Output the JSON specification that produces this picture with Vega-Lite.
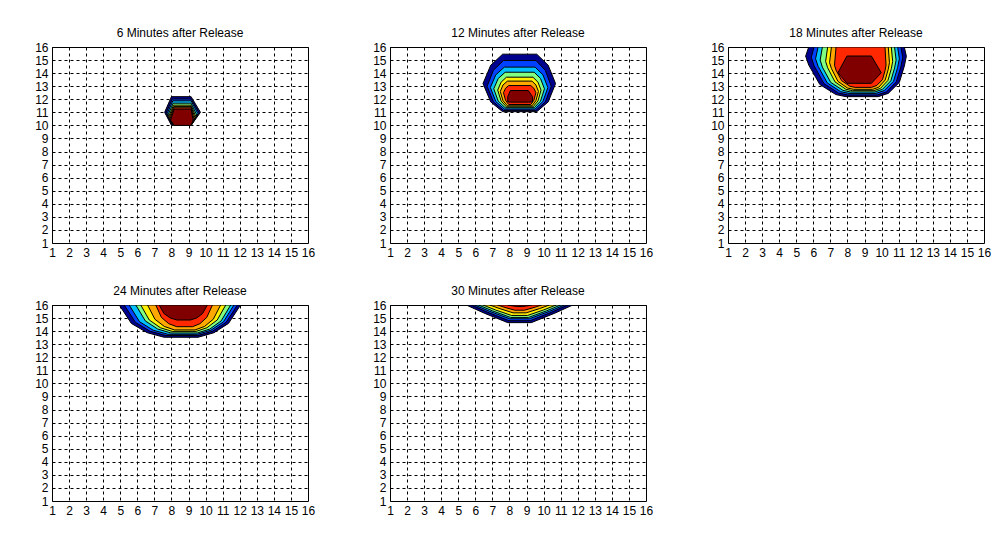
{
"$schema": "https://vega.github.io/schema/vega-lite/v6.json",
"background": "white",
"padding": {"left": 34, "top": 26, "right": 5, "bottom": 5},
"data": {"values": [
{"p":6,"l":1,"x":7.6,"lo":11,"hi":11},{"p":6,"l":1,"x":8.0,"lo":10,"hi":12.2},{"p":6,"l":1,"x":9.15,"lo":10,"hi":12.2},{"p":6,"l":1,"x":9.7,"lo":11,"hi":11},
{"p":6,"l":2,"x":7.68,"lo":10.95,"hi":10.95},{"p":6,"l":2,"x":8.05,"lo":10,"hi":12.02},{"p":6,"l":2,"x":9.15,"lo":10,"hi":12.02},{"p":6,"l":2,"x":9.62,"lo":10.95,"hi":10.95},
{"p":6,"l":3,"x":7.75,"lo":10.9,"hi":10.9},{"p":6,"l":3,"x":8.08,"lo":10,"hi":11.88},{"p":6,"l":3,"x":9.15,"lo":10,"hi":11.88},{"p":6,"l":3,"x":9.55,"lo":10.9,"hi":10.9},
{"p":6,"l":4,"x":7.8,"lo":10.8,"hi":10.8},{"p":6,"l":4,"x":8.1,"lo":10,"hi":11.7},{"p":6,"l":4,"x":9.15,"lo":10,"hi":11.7},{"p":6,"l":4,"x":9.48,"lo":10.8,"hi":10.8},
{"p":6,"l":5,"x":7.85,"lo":10.7,"hi":10.7},{"p":6,"l":5,"x":8.12,"lo":10,"hi":11.55},{"p":6,"l":5,"x":9.15,"lo":10,"hi":11.55},{"p":6,"l":5,"x":9.42,"lo":10.7,"hi":10.7},
{"p":6,"l":6,"x":7.88,"lo":10.6,"hi":10.6},{"p":6,"l":6,"x":8.14,"lo":10,"hi":11.45},{"p":6,"l":6,"x":9.15,"lo":10,"hi":11.45},{"p":6,"l":6,"x":9.37,"lo":10.6,"hi":10.6},
{"p":6,"l":7,"x":7.91,"lo":10.5,"hi":10.5},{"p":6,"l":7,"x":8.15,"lo":10,"hi":11.35},{"p":6,"l":7,"x":9.15,"lo":10,"hi":11.35},{"p":6,"l":7,"x":9.32,"lo":10.5,"hi":10.5},
{"p":6,"l":8,"x":7.95,"lo":10.4,"hi":10.4},{"p":6,"l":8,"x":8.16,"lo":10,"hi":11.25},{"p":6,"l":8,"x":9.15,"lo":10,"hi":11.25},{"p":6,"l":8,"x":9.27,"lo":10.4,"hi":10.4},

{"p":12,"l":1,"x":6.45,"lo":13.2,"hi":13.2},{"p":12,"l":1,"x":6.9,"lo":11.8,"hi":14.6},{"p":12,"l":1,"x":7.6,"lo":11.05,"hi":15.45},{"p":12,"l":1,"x":9.6,"lo":11.05,"hi":15.45},{"p":12,"l":1,"x":10.27,"lo":11.8,"hi":14.6},{"p":12,"l":1,"x":10.7,"lo":13.2,"hi":13.2},
{"p":12,"l":2,"x":6.69,"lo":13.0,"hi":13.0},{"p":12,"l":2,"x":7.06,"lo":11.8,"hi":14.22},{"p":12,"l":2,"x":7.65,"lo":11.15,"hi":14.97},{"p":12,"l":2,"x":9.55,"lo":11.15,"hi":14.97},{"p":12,"l":2,"x":10.1,"lo":11.8,"hi":14.22},{"p":12,"l":2,"x":10.45,"lo":13.0,"hi":13.0},
{"p":12,"l":3,"x":6.88,"lo":12.9,"hi":12.9},{"p":12,"l":3,"x":7.2,"lo":11.83,"hi":13.87},{"p":12,"l":3,"x":7.7,"lo":11.25,"hi":14.46},{"p":12,"l":3,"x":9.5,"lo":11.25,"hi":14.46},{"p":12,"l":3,"x":9.96,"lo":11.83,"hi":13.87},{"p":12,"l":3,"x":10.25,"lo":12.9,"hi":12.9},
{"p":12,"l":4,"x":7.08,"lo":12.8,"hi":12.8},{"p":12,"l":4,"x":7.34,"lo":11.86,"hi":13.59},{"p":12,"l":4,"x":7.75,"lo":11.35,"hi":14.07},{"p":12,"l":4,"x":9.45,"lo":11.35,"hi":14.07},{"p":12,"l":4,"x":9.82,"lo":11.86,"hi":13.59},{"p":12,"l":4,"x":10.05,"lo":12.8,"hi":12.8},
{"p":12,"l":5,"x":7.31,"lo":12.7,"hi":12.7},{"p":12,"l":5,"x":7.51,"lo":11.87,"hi":13.31},{"p":12,"l":5,"x":7.82,"lo":11.42,"hi":13.69},{"p":12,"l":5,"x":9.38,"lo":11.42,"hi":13.69},{"p":12,"l":5,"x":9.67,"lo":11.87,"hi":13.31},{"p":12,"l":5,"x":9.85,"lo":12.7,"hi":12.7},
{"p":12,"l":6,"x":7.46,"lo":12.6,"hi":12.6},{"p":12,"l":6,"x":7.62,"lo":11.89,"hi":13.09},{"p":12,"l":6,"x":7.88,"lo":11.5,"hi":13.39},{"p":12,"l":6,"x":9.32,"lo":11.5,"hi":13.39},{"p":12,"l":6,"x":9.55,"lo":11.89,"hi":13.09},{"p":12,"l":6,"x":9.7,"lo":12.6,"hi":12.6},
{"p":12,"l":7,"x":7.65,"lo":12.5,"hi":12.5},{"p":12,"l":7,"x":7.77,"lo":11.92,"hi":12.84},{"p":12,"l":7,"x":7.95,"lo":11.6,"hi":13.05},{"p":12,"l":7,"x":9.25,"lo":11.6,"hi":13.05},{"p":12,"l":7,"x":9.43,"lo":11.92,"hi":12.84},{"p":12,"l":7,"x":9.55,"lo":12.5,"hi":12.5},
{"p":12,"l":8,"x":7.9,"lo":11.8,"hi":12.2},{"p":12,"l":8,"x":8.05,"lo":11.78,"hi":12.67},{"p":12,"l":8,"x":9.1,"lo":11.78,"hi":12.67},{"p":12,"l":8,"x":9.35,"lo":11.8,"hi":12.2},

{"p":18,"l":1,"x":5.55,"lo":15.3,"hi":15.3},{"p":18,"l":1,"x":5.73,"lo":14.62,"hi":16},{"p":18,"l":1,"x":6.38,"lo":13.13,"hi":16},{"p":18,"l":1,"x":7.32,"lo":12.36,"hi":16},{"p":18,"l":1,"x":7.91,"lo":12.2,"hi":16},{"p":18,"l":1,"x":9.8,"lo":12.2,"hi":16},{"p":18,"l":1,"x":10.39,"lo":12.45,"hi":16},{"p":18,"l":1,"x":11.04,"lo":13.29,"hi":16},{"p":18,"l":1,"x":11.33,"lo":14.53,"hi":16},{"p":18,"l":1,"x":11.45,"lo":15.3,"hi":15.3},
{"p":18,"l":2,"x":5.88,"lo":15.2,"hi":15.2},{"p":18,"l":2,"x":6.04,"lo":14.57,"hi":16},{"p":18,"l":2,"x":6.63,"lo":13.19,"hi":16},{"p":18,"l":2,"x":7.49,"lo":12.47,"hi":16},{"p":18,"l":2,"x":8.02,"lo":12.33,"hi":16},{"p":18,"l":2,"x":9.74,"lo":12.33,"hi":16},{"p":18,"l":2,"x":10.28,"lo":12.56,"hi":16},{"p":18,"l":2,"x":10.86,"lo":13.33,"hi":16},{"p":18,"l":2,"x":11.13,"lo":14.48,"hi":16},{"p":18,"l":2,"x":11.24,"lo":15.2,"hi":15.2},
{"p":18,"l":3,"x":6.13,"lo":15.1,"hi":15.1},{"p":18,"l":3,"x":6.28,"lo":14.52,"hi":16},{"p":18,"l":3,"x":6.82,"lo":13.25,"hi":16},{"p":18,"l":3,"x":7.6,"lo":12.58,"hi":16},{"p":18,"l":3,"x":8.09,"lo":12.45,"hi":16},{"p":18,"l":3,"x":9.67,"lo":12.45,"hi":16},{"p":18,"l":3,"x":10.16,"lo":12.67,"hi":16},{"p":18,"l":3,"x":10.7,"lo":13.38,"hi":16},{"p":18,"l":3,"x":10.94,"lo":14.44,"hi":16},{"p":18,"l":3,"x":11.04,"lo":15.1,"hi":15.1},
{"p":18,"l":4,"x":6.4,"lo":15.0,"hi":15.0},{"p":18,"l":4,"x":6.53,"lo":14.46,"hi":16},{"p":18,"l":4,"x":7.02,"lo":13.29,"hi":16},{"p":18,"l":4,"x":7.74,"lo":12.68,"hi":16},{"p":18,"l":4,"x":8.18,"lo":12.56,"hi":16},{"p":18,"l":4,"x":9.6,"lo":12.56,"hi":16},{"p":18,"l":4,"x":10.05,"lo":12.76,"hi":16},{"p":18,"l":4,"x":10.54,"lo":13.41,"hi":16},{"p":18,"l":4,"x":10.76,"lo":14.39,"hi":16},{"p":18,"l":4,"x":10.85,"lo":15.0,"hi":15.0},
{"p":18,"l":5,"x":6.72,"lo":14.9,"hi":14.9},{"p":18,"l":5,"x":6.84,"lo":14.41,"hi":16},{"p":18,"l":5,"x":7.27,"lo":13.33,"hi":16},{"p":18,"l":5,"x":7.9,"lo":12.77,"hi":16},{"p":18,"l":5,"x":8.29,"lo":12.66,"hi":16},{"p":18,"l":5,"x":9.55,"lo":12.66,"hi":16},{"p":18,"l":5,"x":9.94,"lo":12.84,"hi":16},{"p":18,"l":5,"x":10.37,"lo":13.44,"hi":16},{"p":18,"l":5,"x":10.57,"lo":14.34,"hi":16},{"p":18,"l":5,"x":10.65,"lo":14.9,"hi":14.9},
{"p":18,"l":6,"x":6.95,"lo":14.8,"hi":14.8},{"p":18,"l":6,"x":7.06,"lo":14.35,"hi":16},{"p":18,"l":6,"x":7.44,"lo":13.37,"hi":16},{"p":18,"l":6,"x":8.0,"lo":12.86,"hi":16},{"p":18,"l":6,"x":8.35,"lo":12.76,"hi":16},{"p":18,"l":6,"x":9.48,"lo":12.76,"hi":16},{"p":18,"l":6,"x":9.83,"lo":12.92,"hi":16},{"p":18,"l":6,"x":10.21,"lo":13.47,"hi":16},{"p":18,"l":6,"x":10.39,"lo":14.29,"hi":16},{"p":18,"l":6,"x":10.46,"lo":14.8,"hi":14.8},
{"p":18,"l":7,"x":7.24,"lo":14.6,"hi":14.6},{"p":18,"l":7,"x":7.33,"lo":14.23,"hi":16},{"p":18,"l":7,"x":7.66,"lo":13.42,"hi":16},{"p":18,"l":7,"x":8.15,"lo":12.99,"hi":16},{"p":18,"l":7,"x":8.45,"lo":12.91,"hi":16},{"p":18,"l":7,"x":9.41,"lo":12.91,"hi":16},{"p":18,"l":7,"x":9.72,"lo":13.06,"hi":16},{"p":18,"l":7,"x":10.05,"lo":13.5,"hi":16},{"p":18,"l":7,"x":10.2,"lo":14.18,"hi":16},{"p":18,"l":7,"x":10.26,"lo":14.6,"hi":14.6},
{"p":18,"l":8,"x":7.44,"lo":14.03,"hi":14.03},{"p":18,"l":8,"x":7.97,"lo":13.22,"hi":15.31},{"p":18,"l":8,"x":9.4,"lo":13.22,"hi":15.31},{"p":18,"l":8,"x":9.98,"lo":14.03,"hi":14.03},

{"p":24,"l":1,"x":4.94,"lo":16,"hi":16},{"p":24,"l":1,"x":5.65,"lo":14.59,"hi":16},{"p":24,"l":1,"x":6.58,"lo":13.88,"hi":16},{"p":24,"l":1,"x":7.57,"lo":13.53,"hi":16},{"p":24,"l":1,"x":9.56,"lo":13.53,"hi":16},{"p":24,"l":1,"x":10.49,"lo":13.88,"hi":16},{"p":24,"l":1,"x":11.34,"lo":14.59,"hi":16},{"p":24,"l":1,"x":12.05,"lo":16,"hi":16},
{"p":24,"l":2,"x":5.23,"lo":16,"hi":16},{"p":24,"l":2,"x":5.89,"lo":14.67,"hi":16},{"p":24,"l":2,"x":6.75,"lo":13.99,"hi":16},{"p":24,"l":2,"x":7.68,"lo":13.66,"hi":16},{"p":24,"l":2,"x":9.54,"lo":13.66,"hi":16},{"p":24,"l":2,"x":10.4,"lo":13.99,"hi":16},{"p":24,"l":2,"x":11.2,"lo":14.67,"hi":16},{"p":24,"l":2,"x":11.86,"lo":16,"hi":16},
{"p":24,"l":3,"x":5.52,"lo":16,"hi":16},{"p":24,"l":3,"x":6.13,"lo":14.72,"hi":16},{"p":24,"l":3,"x":6.93,"lo":14.07,"hi":16},{"p":24,"l":3,"x":7.79,"lo":13.76,"hi":16},{"p":24,"l":3,"x":9.51,"lo":13.76,"hi":16},{"p":24,"l":3,"x":10.31,"lo":14.07,"hi":16},{"p":24,"l":3,"x":11.05,"lo":14.72,"hi":16},{"p":24,"l":3,"x":11.66,"lo":16,"hi":16},
{"p":24,"l":4,"x":5.91,"lo":16,"hi":16},{"p":24,"l":4,"x":6.47,"lo":14.78,"hi":16},{"p":24,"l":4,"x":7.19,"lo":14.16,"hi":16},{"p":24,"l":4,"x":7.97,"lo":13.86,"hi":16},{"p":24,"l":4,"x":9.52,"lo":13.86,"hi":16},{"p":24,"l":4,"x":10.25,"lo":14.16,"hi":16},{"p":24,"l":4,"x":10.91,"lo":14.78,"hi":16},{"p":24,"l":4,"x":11.47,"lo":16,"hi":16},
{"p":24,"l":5,"x":6.2,"lo":16,"hi":16},{"p":24,"l":5,"x":6.7,"lo":14.85,"hi":16},{"p":24,"l":5,"x":7.35,"lo":14.26,"hi":16},{"p":24,"l":5,"x":8.04,"lo":13.98,"hi":16},{"p":24,"l":5,"x":9.44,"lo":13.98,"hi":16},{"p":24,"l":5,"x":10.08,"lo":14.26,"hi":16},{"p":24,"l":5,"x":10.68,"lo":14.85,"hi":16},{"p":24,"l":5,"x":11.18,"lo":16,"hi":16},
{"p":24,"l":6,"x":6.6,"lo":16,"hi":16},{"p":24,"l":6,"x":7.03,"lo":14.91,"hi":16},{"p":24,"l":6,"x":7.58,"lo":14.36,"hi":16},{"p":24,"l":6,"x":8.18,"lo":14.09,"hi":16},{"p":24,"l":6,"x":9.38,"lo":14.09,"hi":16},{"p":24,"l":6,"x":9.94,"lo":14.36,"hi":16},{"p":24,"l":6,"x":10.45,"lo":14.91,"hi":16},{"p":24,"l":6,"x":10.88,"lo":16,"hi":16},
{"p":24,"l":7,"x":7.08,"lo":16,"hi":16},{"p":24,"l":7,"x":7.41,"lo":15.05,"hi":16},{"p":24,"l":7,"x":7.84,"lo":14.57,"hi":16},{"p":24,"l":7,"x":8.31,"lo":14.34,"hi":16},{"p":24,"l":7,"x":9.24,"lo":14.34,"hi":16},{"p":24,"l":7,"x":9.67,"lo":14.57,"hi":16},{"p":24,"l":7,"x":10.07,"lo":15.05,"hi":16},{"p":24,"l":7,"x":10.4,"lo":16,"hi":16},
{"p":24,"l":8,"x":7.28,"lo":16,"hi":16},{"p":24,"l":8,"x":7.56,"lo":15.34,"hi":16},{"p":24,"l":8,"x":7.93,"lo":15.01,"hi":16},{"p":24,"l":8,"x":8.32,"lo":14.85,"hi":16},{"p":24,"l":8,"x":9.11,"lo":14.85,"hi":16},{"p":24,"l":8,"x":9.48,"lo":15.01,"hi":16},{"p":24,"l":8,"x":9.82,"lo":15.34,"hi":16},{"p":24,"l":8,"x":10.1,"lo":16,"hi":16},

{"p":30,"l":1,"x":5.47,"lo":16,"hi":16},{"p":30,"l":1,"x":6.53,"lo":15.37,"hi":16},{"p":30,"l":1,"x":7.9,"lo":14.65,"hi":16},{"p":30,"l":1,"x":9.28,"lo":14.65,"hi":16},{"p":30,"l":1,"x":10.65,"lo":15.37,"hi":16},{"p":30,"l":1,"x":11.71,"lo":16,"hi":16},
{"p":30,"l":2,"x":5.77,"lo":16,"hi":16},{"p":30,"l":2,"x":6.73,"lo":15.44,"hi":16},{"p":30,"l":2,"x":7.97,"lo":14.8,"hi":16},{"p":30,"l":2,"x":9.21,"lo":14.8,"hi":16},{"p":30,"l":2,"x":10.45,"lo":15.44,"hi":16},{"p":30,"l":2,"x":11.41,"lo":16,"hi":16},
{"p":30,"l":3,"x":5.96,"lo":16,"hi":16},{"p":30,"l":3,"x":6.85,"lo":15.51,"hi":16},{"p":30,"l":3,"x":8.01,"lo":14.95,"hi":16},{"p":30,"l":3,"x":9.17,"lo":14.95,"hi":16},{"p":30,"l":3,"x":10.33,"lo":15.51,"hi":16},{"p":30,"l":3,"x":11.22,"lo":16,"hi":16},
{"p":30,"l":4,"x":6.19,"lo":16,"hi":16},{"p":30,"l":4,"x":7.01,"lo":15.55,"hi":16},{"p":30,"l":4,"x":8.06,"lo":15.05,"hi":16},{"p":30,"l":4,"x":9.12,"lo":15.05,"hi":16},{"p":30,"l":4,"x":10.17,"lo":15.55,"hi":16},{"p":30,"l":4,"x":10.99,"lo":16,"hi":16},
{"p":30,"l":5,"x":6.45,"lo":16,"hi":16},{"p":30,"l":5,"x":7.18,"lo":15.62,"hi":16},{"p":30,"l":5,"x":8.12,"lo":15.2,"hi":16},{"p":30,"l":5,"x":9.06,"lo":15.2,"hi":16},{"p":30,"l":5,"x":10.0,"lo":15.62,"hi":16},{"p":30,"l":5,"x":10.73,"lo":16,"hi":16},
{"p":30,"l":6,"x":6.84,"lo":16,"hi":16},{"p":30,"l":6,"x":7.44,"lo":15.72,"hi":16},{"p":30,"l":6,"x":8.21,"lo":15.4,"hi":16},{"p":30,"l":6,"x":8.98,"lo":15.4,"hi":16},{"p":30,"l":6,"x":9.75,"lo":15.72,"hi":16},{"p":30,"l":6,"x":10.34,"lo":16,"hi":16},
{"p":30,"l":7,"x":7.3,"lo":16,"hi":16},{"p":30,"l":7,"x":7.74,"lo":15.81,"hi":16},{"p":30,"l":7,"x":8.31,"lo":15.6,"hi":16},{"p":30,"l":7,"x":8.87,"lo":15.6,"hi":16},{"p":30,"l":7,"x":9.44,"lo":15.81,"hi":16},{"p":30,"l":7,"x":9.88,"lo":16,"hi":16},
{"p":30,"l":8,"x":7.9,"lo":16,"hi":16},{"p":30,"l":8,"x":8.14,"lo":15.94,"hi":16},{"p":30,"l":8,"x":8.45,"lo":15.88,"hi":16},{"p":30,"l":8,"x":8.75,"lo":15.88,"hi":16},{"p":30,"l":8,"x":9.06,"lo":15.94,"hi":16},{"p":30,"l":8,"x":9.3,"lo":16,"hi":16}
]},
"columns": 3,
"spacing": {"row": 62, "column": 82},
"bounds": "flush",
"concat": [
{"title": "6 Minutes after Release", "width": 256, "height": 196,
 "transform": [{"filter": "datum.p == 6"}],
 "mark": {"type": "area", "stroke": "black", "strokeWidth": 1, "interpolate": "linear", "clip": true},
 "encoding": {
  "x": {"field": "x", "type": "quantitative", "scale": {"domain": [1, 16], "nice": false, "zero": false}, "axis": {"values": [1,2,3,4,5,6,7,8,9,10,11,12,13,14,15,16]}},
  "y": {"field": "lo", "type": "quantitative", "stack": null, "scale": {"domain": [1, 16], "nice": false, "zero": false}, "axis": {"values": [1,2,3,4,5,6,7,8,9,10,11,12,13,14,15,16]}},
  "y2": {"field": "hi"},
  "color": {"field": "l", "type": "ordinal", "scale": {"domain": [1,2,3,4,5,6,7,8], "range": ["#00008F","#0040FF","#00BFFF","#80FF80","#FFEF00","#FFA800","#FF2800","#800000"]}, "legend": null}
 }},
{"title": "12 Minutes after Release", "width": 256, "height": 196,
 "transform": [{"filter": "datum.p == 12"}],
 "mark": {"type": "area", "stroke": "black", "strokeWidth": 1, "interpolate": "linear", "clip": true},
 "encoding": {
  "x": {"field": "x", "type": "quantitative", "scale": {"domain": [1, 16], "nice": false, "zero": false}, "axis": {"values": [1,2,3,4,5,6,7,8,9,10,11,12,13,14,15,16]}},
  "y": {"field": "lo", "type": "quantitative", "stack": null, "scale": {"domain": [1, 16], "nice": false, "zero": false}, "axis": {"values": [1,2,3,4,5,6,7,8,9,10,11,12,13,14,15,16]}},
  "y2": {"field": "hi"},
  "color": {"field": "l", "type": "ordinal", "scale": {"domain": [1,2,3,4,5,6,7,8], "range": ["#00008F","#0040FF","#00BFFF","#80FF80","#FFEF00","#FFA800","#FF2800","#800000"]}, "legend": null}
 }},
{"title": "18 Minutes after Release", "width": 256, "height": 196,
 "transform": [{"filter": "datum.p == 18"}],
 "mark": {"type": "area", "stroke": "black", "strokeWidth": 1, "interpolate": "linear", "clip": true},
 "encoding": {
  "x": {"field": "x", "type": "quantitative", "scale": {"domain": [1, 16], "nice": false, "zero": false}, "axis": {"values": [1,2,3,4,5,6,7,8,9,10,11,12,13,14,15,16]}},
  "y": {"field": "lo", "type": "quantitative", "stack": null, "scale": {"domain": [1, 16], "nice": false, "zero": false}, "axis": {"values": [1,2,3,4,5,6,7,8,9,10,11,12,13,14,15,16]}},
  "y2": {"field": "hi"},
  "color": {"field": "l", "type": "ordinal", "scale": {"domain": [1,2,3,4,5,6,7,8], "range": ["#00008F","#0040FF","#00BFFF","#80FF80","#FFEF00","#FFA800","#FF2800","#800000"]}, "legend": null}
 }},
{"title": "24 Minutes after Release", "width": 256, "height": 196,
 "transform": [{"filter": "datum.p == 24"}],
 "mark": {"type": "area", "stroke": "black", "strokeWidth": 1, "interpolate": "linear", "clip": true},
 "encoding": {
  "x": {"field": "x", "type": "quantitative", "scale": {"domain": [1, 16], "nice": false, "zero": false}, "axis": {"values": [1,2,3,4,5,6,7,8,9,10,11,12,13,14,15,16]}},
  "y": {"field": "lo", "type": "quantitative", "stack": null, "scale": {"domain": [1, 16], "nice": false, "zero": false}, "axis": {"values": [1,2,3,4,5,6,7,8,9,10,11,12,13,14,15,16]}},
  "y2": {"field": "hi"},
  "color": {"field": "l", "type": "ordinal", "scale": {"domain": [1,2,3,4,5,6,7,8], "range": ["#00008F","#0040FF","#00BFFF","#80FF80","#FFEF00","#FFA800","#FF2800","#800000"]}, "legend": null}
 }},
{"title": "30 Minutes after Release", "width": 256, "height": 196,
 "transform": [{"filter": "datum.p == 30"}],
 "mark": {"type": "area", "stroke": "black", "strokeWidth": 1, "interpolate": "linear", "clip": true},
 "encoding": {
  "x": {"field": "x", "type": "quantitative", "scale": {"domain": [1, 16], "nice": false, "zero": false}, "axis": {"values": [1,2,3,4,5,6,7,8,9,10,11,12,13,14,15,16]}},
  "y": {"field": "lo", "type": "quantitative", "stack": null, "scale": {"domain": [1, 16], "nice": false, "zero": false}, "axis": {"values": [1,2,3,4,5,6,7,8,9,10,11,12,13,14,15,16]}},
  "y2": {"field": "hi"},
  "color": {"field": "l", "type": "ordinal", "scale": {"domain": [1,2,3,4,5,6,7,8], "range": ["#00008F","#0040FF","#00BFFF","#80FF80","#FFEF00","#FFA800","#FF2800","#800000"]}, "legend": null}
 }}
],
"resolve": {"scale": {"x": "independent", "y": "independent"}},
"config": {
 "view": {"stroke": "black", "strokeWidth": 1, "fill": "white"},
 "axis": {"title": null, "domain": false, "ticks": false, "grid": true, "gridColor": "#000000", "gridOpacity": 1, "gridDash": [3, 3], "gridWidth": 1, "labelFont": "Liberation Sans", "labelFontSize": 12, "labelColor": "#000000", "labelPadding": 4, "labelFlush": false, "labelOverlap": false, "labelBound": false},
 "title": {"font": "Liberation Sans", "fontSize": 12, "fontWeight": "normal", "color": "#000000", "offset": 1, "anchor": "middle"}
}
}
